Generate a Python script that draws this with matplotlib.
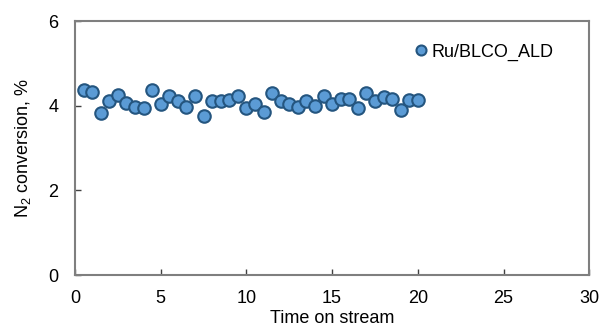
import numpy as np
import matplotlib.pyplot as plt

plt.rcParams['font.family'] = ['Liberation Sans', 'DejaVu Sans']
plt.rcParams['mathtext.fontset'] = 'custom'
plt.rcParams['mathtext.rm'] = 'Liberation Sans'

# time on stream and N2 conversion
time = [0.5, 1.0, 1.5, 2.0, 2.5, 3.0, 3.5, 4.0, 4.5, 5.0,
        5.5, 6.0, 6.5, 7.0, 7.5, 8.0, 8.5, 9.0, 9.5, 10.0,
        10.5, 11.0, 11.5, 12.0, 12.5, 13.0, 13.5, 14.0, 14.5, 15.0,
        15.5, 16.0, 16.5, 17.0, 17.5, 18.0, 18.5, 19.0, 19.5, 20.0]
conversion = [4.38, 4.33, 3.83, 4.11, 4.25, 4.07, 3.96, 3.94, 4.38, 4.04,
              4.24, 4.12, 3.97, 4.24, 3.76, 4.11, 4.11, 4.13, 4.23, 3.95,
              4.05, 3.84, 4.29, 4.11, 4.03, 3.98, 4.11, 4.00, 4.23, 4.05,
              4.16, 4.17, 3.94, 4.29, 4.12, 4.21, 4.17, 3.91, 4.13, 4.13]
label = 'Ru/BLCO_ALD'

fig, ax = plt.subplots(figsize=(6, 3.29), dpi=100)
fig.subplots_adjust(left=0.125, right=0.982, top=0.936, bottom=0.164)

ax.plot(time, conversion, 'o', color='#5B9BD5', markeredgecolor='#24557F',
        markersize=9, markeredgewidth=1.5, linestyle='none', label=label)

ax.set_xlim(0, 30)
ax.set_ylim(0, 6)
ax.set_xticks(range(0, 31, 5))
ax.set_yticks([0, 2, 4, 6])
ax.tick_params(direction='in', length=4, width=1, color='#404040',
               labelsize=13)
ax.tick_params(axis='x', pad=11)
ax.tick_params(axis='y', pad=12)
for s in ax.spines.values():
    s.set_color('#7F7F7F')
    s.set_linewidth(1.5)

ax.set_xlabel('Time on stream', fontsize=13, labelpad=2)
ax.set_ylabel('N$_2$ conversion, %', fontsize=13, labelpad=11)

leg = ax.legend(loc='center left', bbox_to_anchor=(0.645, 0.878), frameon=False,
                fontsize=13, handlelength=0.6, handletextpad=0.3, borderpad=0,
                markerscale=0.8)

plt.savefig('out.png', dpi=100)
